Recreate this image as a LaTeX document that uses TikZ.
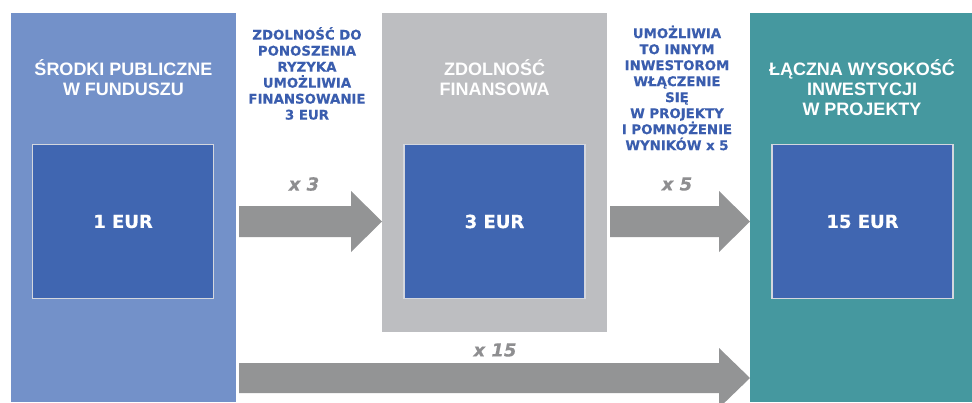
\documentclass[tikz,border=0pt]{standalone}
\usepackage{fontspec}
\newfontfamily\ttlfont{Liberation Sans}
\newfontfamily\vfont{DejaVu Sans}[BoldFeatures={FakeBold=0.35},BoldItalicFeatures={FakeBold=0.35}]
\definecolor{lblue}{HTML}{7391C9}
\definecolor{boxblue}{HTML}{4066B1}
\definecolor{gpanel}{HTML}{BDBEC1}
\definecolor{teal}{HTML}{45989F}
\definecolor{agray}{HTML}{939495}
\definecolor{tblue}{HTML}{3A5DAE}
\definecolor{lgray}{HTML}{8E8E90}
\definecolor{bord}{HTML}{D4D7DE}
\begin{document}
\begin{tikzpicture}[x=1pt,y=-1pt,
  panel/.style={anchor=north west,inner sep=0pt,outer sep=0pt},
  inbox/.style={fill=boxblue,draw=bord,line width=1.5pt,inner sep=0pt,minimum width=181pt,minimum height=154pt,
    text=white,font=\vfont\bfseries\fontsize{18}{20}\selectfont},
  ptitle/.style={text=white,align=center,inner sep=0pt,font=\ttlfont\bfseries\fontsize{18}{20}\selectfont},
  btext/.style={text=tblue,align=center,inner sep=0pt,font=\vfont\bfseries\fontsize{13.3}{16}\selectfont},
  mult/.style={text=lgray,inner sep=0pt,font=\vfont\bfseries\itshape\fontsize{18}{20}\selectfont},
  barrow/.style={fill=agray,draw=none}]
\useasboundingbox (0,0) rectangle (972,402);
\clip (0,0) rectangle (972,402);
\fill[white] (0,0) rectangle (972,402);
% panels
\node[panel,fill=lblue,minimum width=225pt,minimum height=389pt] (p1) at (11,13) {};
\node[panel,fill=gpanel,minimum width=225pt,minimum height=319pt] (p2) at (382,13) {};
\node[panel,fill=teal,minimum width=222pt,minimum height=389pt] (p3) at (750,13) {};
% titles
\node[ptitle] (t1) at (123.5,77.5) {ŚRODKI PUBLICZNE\\W FUNDUSZU};
\node[ptitle] (t2) at (494.5,77.5) {ZDOLNOŚĆ\\FINANSOWA};
\node[ptitle] (t3) at (862,87.5) {ŁĄCZNA WYSOKOŚĆ\\INWESTYCJI\\W PROJEKTY};
% inner boxes
\node[inbox] (b1) at (123,221.5) {\lower1.5pt\hbox{1 EUR}};
\node[inbox] (b2) at (494.5,221.5) {\lower1.5pt\hbox{3 EUR}};
\node[inbox] (b3) at (862.5,221.5) {\lower1.5pt\hbox{15 EUR}};
% blue texts
\node[btext] (d1) at (307,73.5) {ZDOLNOŚĆ DO\\PONOSZENIA\\RYZYKA\\UMOŻLIWIA\\FINANSOWANIE\\3 EUR};
\node[btext] (d2) at (677,88) {UMOŻLIWIA\\TO INNYM\\INWESTOROM\\WŁĄCZENIE\\SIĘ\\W PROJEKTY\\I POMNOŻENIE\\WYNIKÓW x 5};
% arrows
\fill[barrow] (239,206) -- (351,206) -- (351,191) -- (p2.west |- 0,221.5) -- (351,252) -- (351,237) -- (239,237) -- cycle;
\fill[barrow] (610,206) -- (719,206) -- (719,191) -- (p3.west |- 0,221.5) -- (719,252) -- (719,237) -- (610,237) -- cycle;
\fill[barrow] (239,363) -- (719,363) -- (719,348) -- (p3.west |- 0,378) -- (719,408) -- (719,393) -- (239,393) -- cycle;
% multipliers
\node[mult] (m1) at (304,184) {x 3};
\node[mult] (m2) at (677,184) {x 5};
\node[mult] (m3) at (495,350) {x 15};
\end{tikzpicture}
\end{document}
